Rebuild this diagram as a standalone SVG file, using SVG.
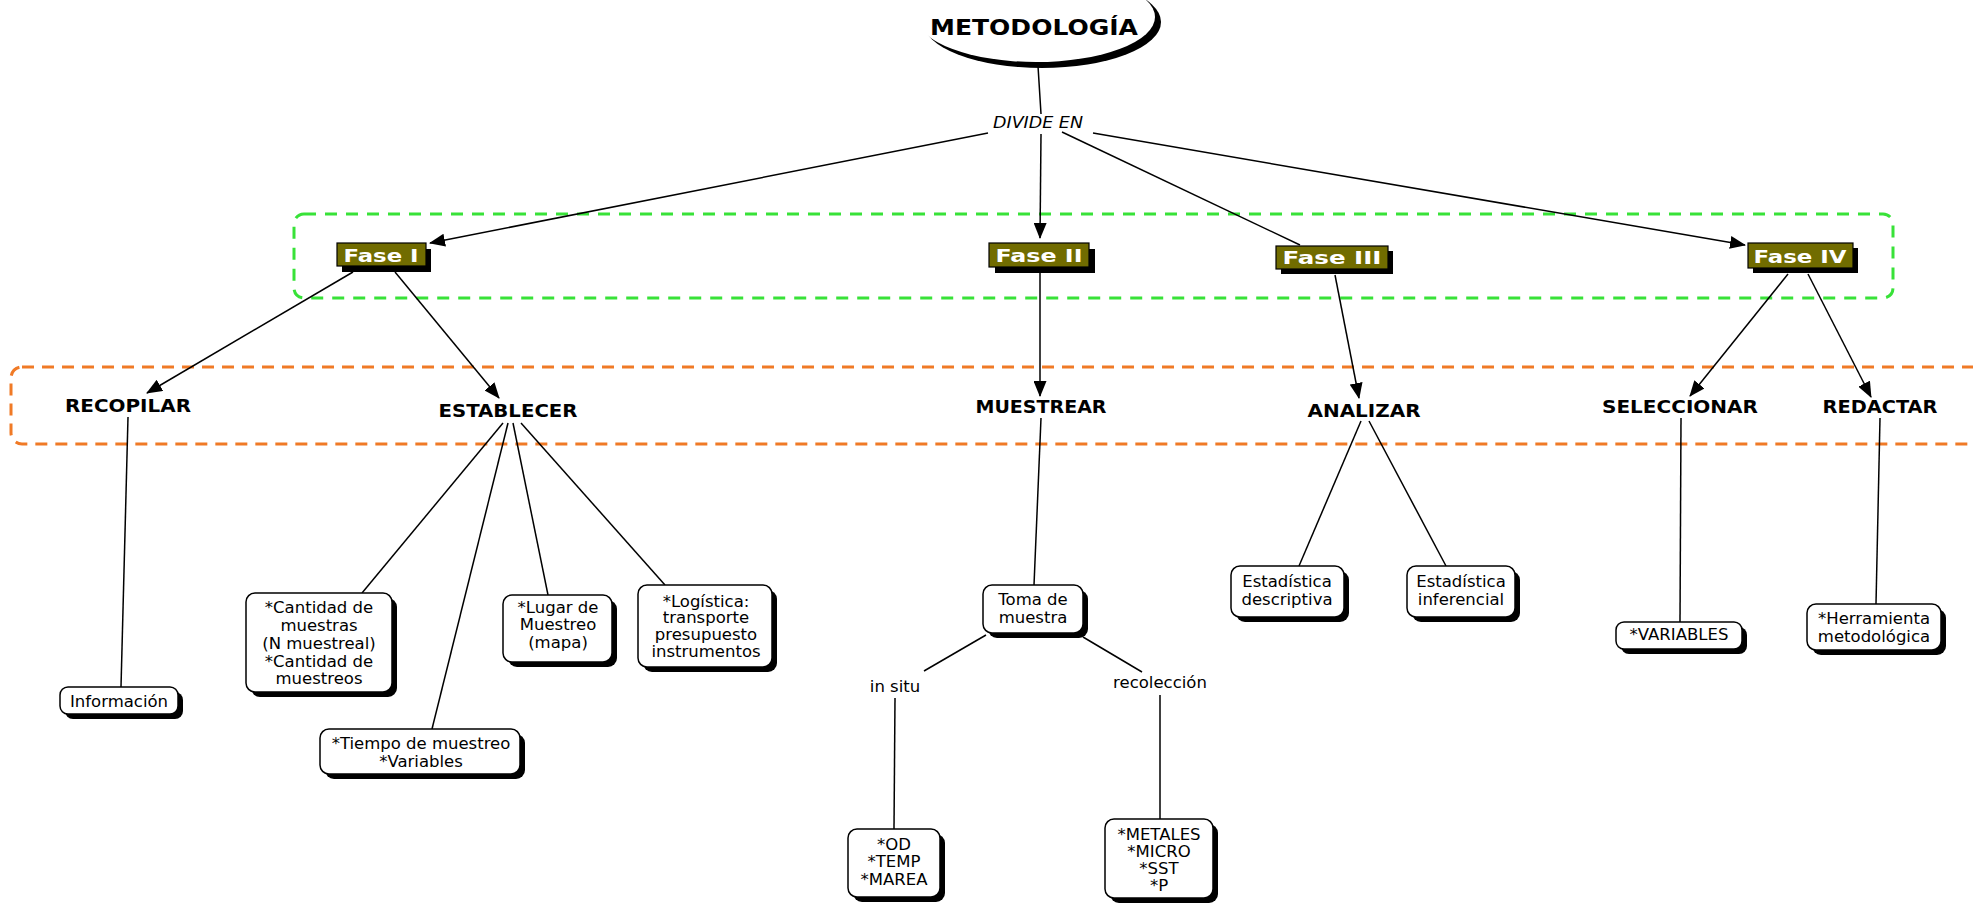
<svg xmlns="http://www.w3.org/2000/svg" width="1973" height="904" viewBox="0 0 1973 904">
<style>
text{font-family:"DejaVu Sans","Verdana",sans-serif;fill:#000;text-anchor:middle}
.bt{font-size:16.5px}
.lbl{font-size:17.5px;font-weight:bold}
.fase{font-size:18px;font-weight:bold;fill:#fff}
.box{fill:#fff;stroke:#000;stroke-width:1.5}
.sh{fill:#000}
.fbox{fill:#716c00;stroke:#000;stroke-width:1.2}
.con{stroke:#000;stroke-width:1.5;fill:none}
.arr{marker-end:url(#ah)}
</style>
<defs>
<marker id="ah" markerUnits="userSpaceOnUse" markerWidth="16" markerHeight="13" refX="15" refY="6.5" orient="auto">
<path d="M0,0 L16,6.5 L0,13 z" fill="#000"/>
</marker>
</defs>
<rect width="1973" height="904" fill="#fff"/>
<rect x="294" y="214" width="1599" height="84" rx="10" fill="none" stroke="#38e238" stroke-width="3" stroke-dasharray="12 9"/>
<rect x="11" y="367" width="2010" height="77" rx="11" fill="none" stroke="#f07a26" stroke-width="3" stroke-dasharray="12 8"/>

<g id="connectors">
<path class="con" d="M1038,66 L1041,114"/>
<path class="con arr" d="M988,133 L430,243"/>
<path class="con arr" d="M1041,134 L1040,238"/>
<path class="con" d="M1062,132 L1300,245"/>
<path class="con arr" d="M1093,133 L1745,245"/>
<path class="con arr" d="M353,272 L147,393"/>
<path class="con arr" d="M395,272 L499,398"/>
<path class="con arr" d="M1040,273 L1040,396"/>
<path class="con arr" d="M1335,275 L1359,398"/>
<path class="con arr" d="M1788,274 L1690,396"/>
<path class="con arr" d="M1808,274 L1871,397"/>
<path class="con" d="M128,417 L121,687"/>
<path class="con" d="M503,423 L362,593"/>
<path class="con" d="M508,423 L432,729"/>
<path class="con" d="M513,423 L548,595"/>
<path class="con" d="M521,423 L665,585"/>
<path class="con" d="M1041,418 L1034,585"/>
<path class="con" d="M986,635 L924,671"/>
<path class="con" d="M1083,637 L1142,672"/>
<path class="con" d="M895,698 L894,829"/>
<path class="con" d="M1160,695 L1160,819"/>
<path class="con" d="M1361,421 L1299,566"/>
<path class="con" d="M1369,421 L1446,566"/>
<path class="con" d="M1681,418 L1680,622"/>
<path class="con" d="M1880,418 L1876,604"/>
</g>

<g id="metodologia">
<ellipse cx="1042" cy="22" rx="119" ry="46" fill="#000"/>
<ellipse cx="1036" cy="17" rx="119" ry="45" fill="#fff"/>
<text x="1034" y="35" style="font-size:22px;font-weight:bold" textLength="208" lengthAdjust="spacingAndGlyphs">METODOLOGÍA</text>
</g>

<g id="divide-en">
<text x="1038" y="128" style="font-size:15px;font-style:italic" textLength="90" lengthAdjust="spacingAndGlyphs">DIVIDE EN</text>
</g>

<g id="fase-1">
<rect class="sh" x="342" y="249" width="89" height="23"/>
<rect class="fbox" x="337" y="243" width="89" height="23"/>
<text class="fase" x="381" y="262" textLength="75" lengthAdjust="spacingAndGlyphs">Fase I</text>
</g>
<g id="fase-2">
<rect class="sh" x="995" y="249" width="100" height="24"/>
<rect class="fbox" x="989" y="243" width="100" height="24"/>
<text class="fase" x="1039" y="262" textLength="87" lengthAdjust="spacingAndGlyphs">Fase II</text>
</g>
<g id="fase-3">
<rect class="sh" x="1281" y="251" width="112" height="23"/>
<rect class="fbox" x="1276" y="246" width="112" height="23"/>
<text class="fase" x="1332" y="264" textLength="99" lengthAdjust="spacingAndGlyphs">Fase III</text>
</g>
<g id="fase-4">
<rect class="sh" x="1753" y="248" width="105" height="25"/>
<rect class="fbox" x="1748" y="243" width="105" height="25"/>
<text class="fase" x="1800" y="263" textLength="93" lengthAdjust="spacingAndGlyphs">Fase IV</text>
</g>

<g id="recopilar"><text class="lbl" x="128" y="412" textLength="126" lengthAdjust="spacingAndGlyphs">RECOPILAR</text></g>
<g id="establecer"><text class="lbl" x="508" y="417" textLength="139" lengthAdjust="spacingAndGlyphs">ESTABLECER</text></g>
<g id="muestrear"><text class="lbl" x="1041" y="413" textLength="131" lengthAdjust="spacingAndGlyphs">MUESTREAR</text></g>
<g id="analizar"><text class="lbl" x="1364" y="417" textLength="113" lengthAdjust="spacingAndGlyphs">ANALIZAR</text></g>
<g id="seleccionar"><text class="lbl" x="1680" y="413" textLength="156" lengthAdjust="spacingAndGlyphs">SELECCIONAR</text></g>
<g id="redactar"><text class="lbl" x="1880" y="413" textLength="115" lengthAdjust="spacingAndGlyphs">REDACTAR</text></g>

<g id="informacion">
<rect class="sh" x="65" y="692" width="118" height="27" rx="8"/>
<rect class="box" x="60" y="687" width="118" height="27" rx="8"/>
<text class="bt" x="119" y="707">Información</text>
</g>
<g id="cantidad">
<rect class="sh" x="251" y="598" width="146" height="99" rx="9"/>
<rect class="box" x="246" y="593" width="146" height="99" rx="9"/>
<text class="bt" x="319" y="613">*Cantidad de</text>
<text class="bt" x="319" y="631">muestras</text>
<text class="bt" x="319" y="649">(N muestreal)</text>
<text class="bt" x="319" y="667">*Cantidad de</text>
<text class="bt" x="319" y="684">muestreos</text>
</g>
<g id="lugar">
<rect class="sh" x="508" y="600" width="109" height="67" rx="9"/>
<rect class="box" x="503" y="595" width="109" height="67" rx="9"/>
<text class="bt" x="558" y="613">*Lugar de</text>
<text class="bt" x="558" y="630">Muestreo</text>
<text class="bt" x="558" y="648">(mapa)</text>
</g>
<g id="logistica">
<rect class="sh" x="643" y="590" width="134" height="82" rx="9"/>
<rect class="box" x="638" y="585" width="134" height="82" rx="9"/>
<text class="bt" x="706" y="607">*Logística:</text>
<text class="bt" x="706" y="623">transporte</text>
<text class="bt" x="706" y="640">presupuesto</text>
<text class="bt" x="706" y="657">instrumentos</text>
</g>
<g id="tiempo">
<rect class="sh" x="325" y="734" width="200" height="45" rx="9"/>
<rect class="box" x="320" y="729" width="200" height="45" rx="9"/>
<text class="bt" x="421" y="749">*Tiempo de muestreo</text>
<text class="bt" x="421" y="767">*Variables</text>
</g>
<g id="toma">
<rect class="sh" x="988" y="590" width="100" height="48" rx="9"/>
<rect class="box" x="983" y="585" width="100" height="48" rx="9"/>
<text class="bt" x="1033" y="605">Toma de</text>
<text class="bt" x="1033" y="623">muestra</text>
</g>
<g id="in-situ"><text class="bt" x="895" y="692">in situ</text></g>
<g id="recoleccion"><text class="bt" x="1160" y="688">recolección</text></g>
<g id="od">
<rect class="sh" x="853" y="834" width="92" height="68" rx="9"/>
<rect class="box" x="848" y="829" width="92" height="68" rx="9"/>
<text class="bt" x="894" y="850">*OD</text>
<text class="bt" x="894" y="867">*TEMP</text>
<text class="bt" x="894" y="885">*MAREA</text>
</g>
<g id="metales">
<rect class="sh" x="1110" y="824" width="108" height="79" rx="9"/>
<rect class="box" x="1105" y="819" width="108" height="79" rx="9"/>
<text class="bt" x="1159" y="840">*METALES</text>
<text class="bt" x="1159" y="857">*MICRO</text>
<text class="bt" x="1159" y="874">*SST</text>
<text class="bt" x="1159" y="891">*P</text>
</g>
<g id="descriptiva">
<rect class="sh" x="1236" y="571" width="113" height="51" rx="9"/>
<rect class="box" x="1231" y="566" width="113" height="51" rx="9"/>
<text class="bt" x="1287" y="587">Estadística</text>
<text class="bt" x="1287" y="605">descriptiva</text>
</g>
<g id="inferencial">
<rect class="sh" x="1412" y="571" width="108" height="51" rx="9"/>
<rect class="box" x="1407" y="566" width="108" height="51" rx="9"/>
<text class="bt" x="1461" y="587">Estadística</text>
<text class="bt" x="1461" y="605">inferencial</text>
</g>
<g id="variables">
<rect class="sh" x="1621" y="627" width="126" height="27" rx="8"/>
<rect class="box" x="1616" y="622" width="126" height="27" rx="8"/>
<text class="bt" x="1679" y="640">*VARIABLES</text>
</g>
<g id="herramienta">
<rect class="sh" x="1812" y="609" width="134" height="46" rx="9"/>
<rect class="box" x="1807" y="604" width="134" height="46" rx="9"/>
<text class="bt" x="1874" y="624">*Herramienta</text>
<text class="bt" x="1874" y="642">metodológica</text>
</g>
</svg>
